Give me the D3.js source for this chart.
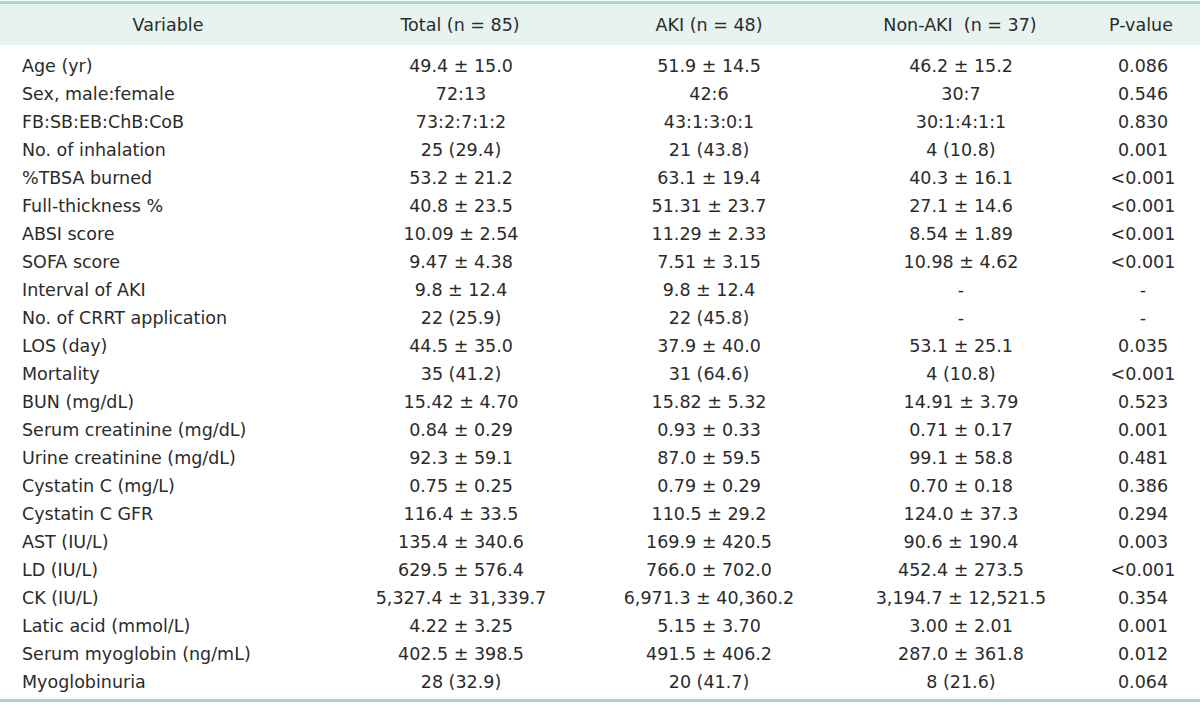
<!DOCTYPE html>
<html>
<head>
<meta charset="utf-8">
<script src="https://cdn.jsdelivr.net/npm/d3@7"></script>
<style>
  body { margin: 0; background: #fff; }
  svg text { font-family: "DejaVu Sans", "Open Sans", sans-serif; fill: #2b2b2b; white-space: pre; }
</style>
</head>
<body>
<div class="chart"></div>
<script>
// Table content
const headers = ["Variable", "Total (n = 85)", "AKI (n = 48)", "Non-AKI  (n = 37)", "P-value"];

const variables = [
  "Age (yr)", "Sex, male:female", "FB:SB:EB:ChB:CoB", "No. of inhalation", "%TBSA burned",
  "Full-thickness %", "ABSI score", "SOFA score", "Interval of AKI", "No. of CRRT application",
  "LOS (day)", "Mortality", "BUN (mg/dL)", "Serum creatinine (mg/dL)", "Urine creatinine (mg/dL)",
  "Cystatin C (mg/L)", "Cystatin C GFR", "AST (IU/L)", "LD (IU/L)", "CK (IU/L)",
  "Latic acid (mmol/L)", "Serum myoglobin (ng/mL)", "Myoglobinuria"
];

const totalValues = [
  "49.4 ± 15.0", "72:13", "73:2:7:1:2", "25 (29.4)", "53.2 ± 21.2",
  "40.8 ± 23.5", "10.09 ± 2.54", "9.47 ± 4.38", "9.8 ± 12.4", "22 (25.9)",
  "44.5 ± 35.0", "35 (41.2)", "15.42 ± 4.70", "0.84 ± 0.29", "92.3 ± 59.1",
  "0.75 ± 0.25", "116.4 ± 33.5", "135.4 ± 340.6", "629.5 ± 576.4", "5,327.4 ± 31,339.7",
  "4.22 ± 3.25", "402.5 ± 398.5", "28 (32.9)"
];

const akiValues = [
  "51.9 ± 14.5", "42:6", "43:1:3:0:1", "21 (43.8)", "63.1 ± 19.4",
  "51.31 ± 23.7", "11.29 ± 2.33", "7.51 ± 3.15", "9.8 ± 12.4", "22 (45.8)",
  "37.9 ± 40.0", "31 (64.6)", "15.82 ± 5.32", "0.93 ± 0.33", "87.0 ± 59.5",
  "0.79 ± 0.29", "110.5 ± 29.2", "169.9 ± 420.5", "766.0 ± 702.0", "6,971.3 ± 40,360.2",
  "5.15 ± 3.70", "491.5 ± 406.2", "20 (41.7)"
];

const nonAkiValues = [
  "46.2 ± 15.2", "30:7", "30:1:4:1:1", "4 (10.8)", "40.3 ± 16.1",
  "27.1 ± 14.6", "8.54 ± 1.89", "10.98 ± 4.62", "-", "-",
  "53.1 ± 25.1", "4 (10.8)", "14.91 ± 3.79", "0.71 ± 0.17", "99.1 ± 58.8",
  "0.70 ± 0.18", "124.0 ± 37.3", "90.6 ± 190.4", "452.4 ± 273.5", "3,194.7 ± 12,521.5",
  "3.00 ± 2.01", "287.0 ± 361.8", "8 (21.6)"
];

const pValues = [
  "0.086", "0.546", "0.830", "0.001", "<0.001",
  "<0.001", "<0.001", "<0.001", "-", "-",
  "0.035", "<0.001", "0.523", "0.001", "0.481",
  "0.386", "0.294", "0.003", "<0.001", "0.354",
  "0.001", "0.012", "0.064"
];

const width = 1200;
const height = 705;
const borderColor = "#a6d7cc";
const headerFill = "#e6f3f0";
const fontSize = 17.5;

const svg = d3.select(".chart")
  .append("svg")
  .attr("width", width)
  .attr("height", height);

// Columns: values, x position, anchor
const columns = [
  { values: variables, x: 22, anchor: "start", headerX: 168 },
  { values: totalValues, x: 461, anchor: "middle", headerX: 460 },
  { values: akiValues, x: 709, anchor: "middle", headerX: 709 },
  { values: nonAkiValues, x: 961, anchor: "middle", headerX: 960 },
  { values: pValues, x: 1143, anchor: "middle", headerX: 1141 }
];

// Row scale
const yScale = d3.scaleBand()
  .domain(variables)
  .range([52, 52 + variables.length * 28]);

// Header band
svg.append("rect")
  .attr("x", 0)
  .attr("y", 4)
  .attr("width", width)
  .attr("height", 41)
  .attr("fill", headerFill);

// Top and bottom borders
svg.append("rect")
  .attr("x", 0).attr("y", 1)
  .attr("width", width).attr("height", 3)
  .attr("fill", borderColor);

svg.append("rect")
  .attr("x", 0).attr("y", 699)
  .attr("width", width).attr("height", 3)
  .attr("fill", borderColor);

// Header text
svg.selectAll(".header")
  .data(headers)
  .enter()
  .append("text")
  .attr("class", "header")
  .attr("x", (d, i) => columns[i].headerX)
  .attr("y", 25)
  .attr("dy", "0.35em")
  .attr("text-anchor", "middle")
  .attr("font-size", fontSize)
  .text(d => d);

// Body cells
columns.forEach(col => {
  svg.append("g")
    .selectAll("text")
    .data(col.values.map((v, i) => ({ v, key: variables[i] })))
    .enter()
    .append("text")
    .attr("x", col.x)
    .attr("y", d => yScale(d.key) + yScale.bandwidth() / 2)
    .attr("dy", "0.35em")
    .attr("text-anchor", col.anchor)
    .attr("font-size", fontSize)
    .text(d => d.v);
});
</script>
</body>
</html>
